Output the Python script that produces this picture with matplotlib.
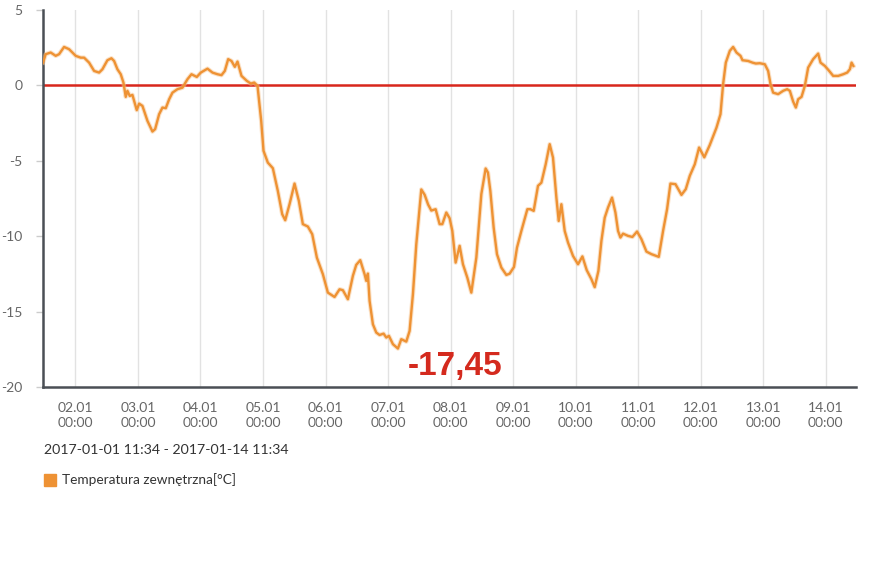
import pandas as pd
import matplotlib
matplotlib.use('Agg')
import matplotlib.pyplot as plt
from matplotlib.patches import Rectangle

# Dzień stycznia (ułamkowy) i temperatura [°C]
day = [
    1.483, 1.525, 1.605, 1.685, 1.739, 1.819, 1.899, 2.005, 2.085, 2.139,
    2.219, 2.299, 2.379, 2.432, 2.512, 2.576, 2.619, 2.672, 2.725, 2.768,
    2.805, 2.832, 2.869, 2.912, 2.981, 3.019, 3.072, 3.152, 3.232, 3.275,
    3.339, 3.392, 3.445, 3.499, 3.552, 3.632, 3.712, 3.792, 3.856, 3.941,
    4.005, 4.112, 4.192, 4.272, 4.336, 4.389, 4.443, 4.496, 4.549, 4.592,
    4.656, 4.741, 4.805, 4.859, 4.912, 4.971, 5.008, 5.077, 5.157, 5.237,
    5.307, 5.355, 5.424, 5.504, 5.573, 5.637, 5.717, 5.787, 5.861, 5.957,
    6.037, 6.144, 6.224, 6.277, 6.357, 6.437, 6.491, 6.555, 6.624, 6.651,
    6.677, 6.704, 6.757, 6.811, 6.864, 6.928, 6.971, 7.013, 7.077, 7.157,
    7.211, 7.291, 7.344, 7.397, 7.451, 7.531, 7.584, 7.640, 7.691, 7.760,
    7.824, 7.867, 7.931, 7.984, 8.027, 8.080, 8.144, 8.197, 8.267, 8.331,
    8.411, 8.491, 8.560, 8.597, 8.635, 8.688, 8.741, 8.811, 8.891, 8.944,
    9.013, 9.061, 9.131, 9.227, 9.275, 9.328, 9.397, 9.451, 9.520, 9.584,
    9.637, 9.691, 9.728, 9.771, 9.824, 9.877, 9.957, 10.037, 10.107, 10.176,
    10.251, 10.304, 10.363, 10.411, 10.464, 10.517, 10.581, 10.635, 10.677, 10.715,
    10.757, 10.837, 10.907, 10.981, 11.051, 11.131, 11.211, 11.328, 11.397, 11.461,
    11.515, 11.595, 11.691, 11.760, 11.824, 11.904, 11.973, 12.056, 12.144, 12.251,
    12.315, 12.357, 12.400, 12.464, 12.517, 12.571, 12.635, 12.667, 12.757, 12.827,
    12.880, 12.944, 13.024, 13.077, 13.115, 13.157, 13.237, 13.317, 13.381, 13.424,
    13.477, 13.520, 13.557, 13.611, 13.664, 13.717, 13.797, 13.877, 13.915, 13.984,
    14.053, 14.117, 14.197, 14.277, 14.341, 14.384, 14.411, 14.440,
]
temp = [
    1.51, 2.07, 2.18, 1.96, 2.07, 2.55, 2.40, 1.96, 1.84, 1.84,
    1.51, 0.96, 0.85, 1.07, 1.67, 1.80, 1.62, 1.07, 0.74, 0.19,
    -0.76, -0.36, -0.70, -0.63, -1.64, -1.21, -1.36, -2.35, -3.06, -2.90,
    -1.91, -1.47, -1.51, -0.92, -0.48, -0.25, -0.15, 0.41, 0.74, 0.56,
    0.85, 1.11, 0.85, 0.74, 0.68, 0.96, 1.74, 1.62, 1.23, 1.58,
    0.63, 0.30, 0.12, 0.19, -0.03, -2.35, -4.34, -5.12, -5.49, -7.00,
    -8.54, -8.94, -7.88, -6.51, -7.66, -9.20, -9.36, -9.87, -11.42, -12.52,
    -13.74, -14.03, -13.52, -13.58, -14.18, -12.63, -11.90, -11.59, -12.52, -12.96,
    -12.48, -14.29, -15.84, -16.39, -16.55, -16.46, -16.72, -16.61, -17.16, -17.45,
    -16.83, -16.99, -16.28, -13.85, -10.53, -6.90, -7.25, -7.90, -8.30, -8.21,
    -9.20, -9.20, -8.43, -8.81, -9.65, -11.75, -10.64, -11.86, -12.75, -13.74,
    -11.42, -7.21, -5.51, -5.78, -7.00, -9.43, -11.19, -12.08, -12.57, -12.48,
    -12.04, -10.76, -9.65, -8.21, -8.21, -8.32, -6.66, -6.45, -5.23, -3.90,
    -4.79, -7.44, -8.99, -7.88, -9.65, -10.42, -11.31, -11.86, -11.34, -12.25,
    -12.85, -13.38, -12.30, -10.31, -8.77, -8.10, -7.44, -8.43, -9.65, -10.09,
    -9.83, -9.98, -10.05, -9.69, -10.20, -11.02, -11.19, -11.37, -9.65, -8.21,
    -6.51, -6.55, -7.26, -6.88, -6.00, -5.23, -4.12, -4.77, -3.95, -2.80,
    -1.91, 0.08, 1.51, 2.29, 2.55, 2.18, 1.96, 1.67, 1.62, 1.51,
    1.45, 1.47, 1.40, 0.96, 0.08, -0.48, -0.58, -0.36, -0.25, -0.36,
    -1.07, -1.47, -0.92, -0.76, -0.03, 1.18, 1.74, 2.11, 1.51, 1.29,
    0.96, 0.63, 0.63, 0.74, 0.85, 1.07, 1.51, 1.29,
]

start = pd.Timestamp('2017-01-01 11:34')
end = pd.Timestamp('2017-01-14 11:34')
tick_days = pd.date_range('2017-01-02', '2017-01-14', freq='D')
y_ticks = [5, 0, -5, -10, -15, -20]
min_label = '-17,45'

times = pd.Timestamp('2017-01-01') + pd.to_timedelta([d - 1 for d in day], unit='D')

plt.rcParams['font.family'] = ['Lato', 'DejaVu Sans']

fig = plt.figure(figsize=(8.74, 5.69), dpi=100)
ax = fig.add_axes([43 / 874, 1 - 387 / 569, (856 - 43) / 874, (387 - 10) / 569])

# siatka pionowa
for t in tick_days:
    ax.axvline(t, color='#e2e2e2', linewidth=1, zorder=0)

# linia zera
ax.axhline(0, color='#d8261c', linewidth=1.8, zorder=2)

# seria temperatury
ax.plot(times, temp, color='#f7c48f', linewidth=3.2, alpha=0.5, zorder=3, solid_joinstyle='round')
ax.plot(times, temp, color='#ee9234', linewidth=1.7, zorder=4, solid_joinstyle='round')

ax.set_xlim(start, end)
ax.set_ylim(-20, 5)
ax.set_yticks(y_ticks)
ax.set_yticklabels([str(v) for v in y_ticks])
ax.set_xticks(tick_days)
ax.set_xticklabels([t.strftime('%d.%m\n%H:%M') for t in tick_days])

for s in ['top', 'right']:
    ax.spines[s].set_visible(False)
for s in ['left', 'bottom']:
    ax.spines[s].set_color('#4a4f55')
    ax.spines[s].set_linewidth(1.8)

ax.tick_params(axis='y', length=5, width=1, color='#cccccc', pad=10,
               labelsize=10, labelcolor='#666666')
ax.tick_params(axis='x', length=0, pad=11, labelsize=10, labelcolor='#666666')
for lbl in ax.get_xticklabels():
    lbl.set_linespacing(1.25)

# minimum
fig.text(408 / 874, 1 - 367 / 569, min_label, color='#d42a1e', fontsize=24,
         fontweight='bold', family='Liberation Sans', va='center', ha='left')

# zakres dat
fig.text(44 / 874, 1 - 450 / 569,
         f"{start:%Y-%m-%d %H:%M} - {end:%Y-%m-%d %H:%M}",
         color='#333333', fontsize=10.2, va='center', ha='left')

# legenda
fig.patches.append(Rectangle((44 / 874, 1 - 486 / 569), 12 / 874, 12 / 569,
                             transform=fig.transFigure, color='#ee9234'))
fig.text(62 / 874, 1 - 480 / 569, 'Temperatura zewnętrzna[°C]',
         color='#333333', fontsize=9.8, va='center', ha='left')

fig.savefig('out.png', dpi=100)
